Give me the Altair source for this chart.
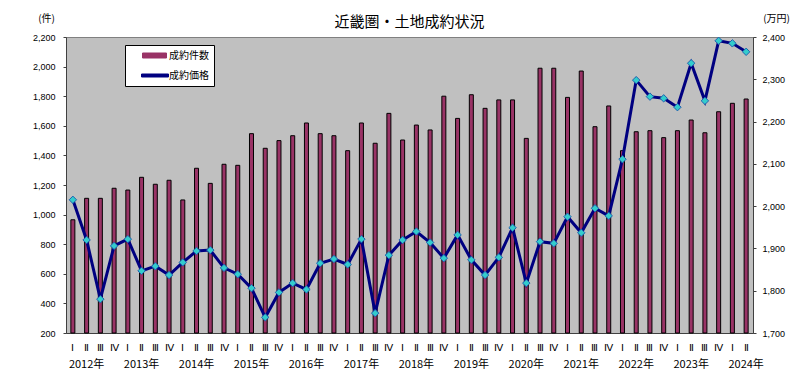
import altair as alt
import pandas as pd

years = list(range(2012, 2025))
quarter_labels = ["Ⅰ", "Ⅱ", "Ⅲ", "Ⅳ"]

counts = [965, 1110, 1110, 1178, 1166, 1252, 1205, 1232, 1099, 1313, 1211, 1340,
          1333, 1547, 1448, 1500, 1533, 1619, 1547, 1533, 1432, 1619, 1482, 1684,
          1504, 1605, 1572, 1800, 1650, 1810, 1718, 1775, 1775, 1515, 1989, 1989,
          1792, 1970, 1594, 1734, 1432, 1560, 1567, 1520, 1567, 1639, 1553, 1695,
          1752, 1781]

prices = [2015, 1920, 1780, 1906, 1922, 1847, 1858, 1837, 1867, 1894, 1896, 1854,
          1839, 1806, 1737, 1796, 1818, 1803, 1865, 1875, 1862, 1922, 1747, 1884,
          1920, 1940, 1914, 1877, 1932, 1873, 1837, 1879, 1949, 1818, 1916, 1912,
          1975, 1937, 1995, 1977, 2111, 2298, 2259, 2255, 2234, 2338, 2249, 2391,
          2385, 2365]

left_ticks = list(range(200, 2201, 200))
right_ticks = list(range(1700, 2401, 100))

keys, year_label = [], []
for i in range(len(counts)):
    y = years[i // 4]
    q = i % 4
    keys.append(f"{y}-{quarter_labels[q]}")
    year_label.append(f"{y}年" if q == 1 else "")

df = pd.DataFrame({
    "key": keys,
    "count": counts,
    "price": prices,
    "year_label": year_label,
    "s_bar": "成約件数",
    "s_line": "成約価格",
})

JP = "Noto Sans CJK JP"
NUM = "Liberation Sans"

x_enc = alt.X("key:O", sort=keys, scale=alt.Scale(domain=keys, paddingInner=0, paddingOuter=0),
              axis=alt.Axis(title=None, labelAngle=0, ticks=False, labelPadding=9,
                            labelExpr="split(datum.value, '-')[1]", labelFont="Liberation Serif",
                            labelFontSize=10, labelColor="black", domainColor="#404040"))

is_bar = "datum.value == '成約件数'"
bar_path = "M1.4,-0.5H6.2V0.5H1.4Z"
line_path = "M1.2,-0.3H6.6V0.3H1.2Z"

legend = alt.Legend(
    title=None, orient="none", legendX=59, legendY=8, direction="vertical",
    fillColor="white", strokeColor="black", padding=5, rowPadding=9,
    labelFont=JP, labelFontSize=10, labelColor="black", labelOffset=28,
    symbolSize=100, labelExpr="datum.label + '\u3000'",
    symbolType={"expr": f"{is_bar} ? '{bar_path}' : '{line_path}'"},
    symbolFillColor={"expr": f"{is_bar} ? '#993366' : '#000080'"},
    symbolStrokeColor={"expr": f"{is_bar} ? '#000000' : '#000080'"},
    symbolStrokeWidth=1, symbolOpacity=1,
)

color_scale = alt.Scale(domain=["成約件数", "成約価格"], range=["#993366", "#000080"])

base = alt.Chart(df)

bars = base.mark_bar(size=4, stroke="black", strokeWidth=1, opacity=1).encode(
    x=x_enc,
    y=alt.Y("count:Q", scale=alt.Scale(domain=[200, 2200], nice=False, zero=False),
            axis=alt.Axis(values=left_ticks, format=",d", grid=False, orient="left",
                          tickSize=3, labelPadding=8, labelFont=NUM, labelFontSize=9,
                          labelColor="black", domainColor="#404040", tickColor="#404040",
                          title="(件)", titleAngle=0, titleX=-20, titleY=-19,
                          titleAlign="center", titleBaseline="middle", titleFont=JP,
                          titleFontSize=10, titleFontWeight="normal", titleColor="black")),
    y2=alt.datum(200),
    color=alt.Color("s_bar:N", scale=color_scale, legend=legend),
)

right_axis = alt.Axis(values=right_ticks, format=",d", grid=False, orient="right",
                      tickSize=3, labelPadding=6, labelFont=NUM, labelFontSize=9,
                      labelColor="black", domainColor="#404040", tickColor="#404040",
                      title="(万円)", titleAngle=0, titleX=23, titleY=-19,
                      titleAlign="center", titleBaseline="middle", titleFont=JP,
                      titleFontSize=10, titleFontWeight="normal", titleColor="black")
right_scale = alt.Scale(domain=[1700, 2400], nice=False, zero=False)

line = base.mark_line(strokeWidth=3).encode(
    x=x_enc,
    y=alt.Y("price:Q", scale=right_scale, axis=right_axis),
    color=alt.Color("s_line:N", scale=color_scale, legend=legend),
)

points = base.mark_point(shape="diamond", filled=True, size=55, fill="#33CCCC",
                         stroke="#2060B0", strokeWidth=1, opacity=1).encode(
    x=x_enc,
    y=alt.Y("price:Q", scale=right_scale, axis=right_axis),
)

year_text = base.transform_filter("datum.year_label != ''").mark_text(
    font=JP, fontSize=11, color="black", baseline="middle", align="center"
).encode(
    x=x_enc,
    y=alt.value(328),
    text="year_label:N",
)

chart = alt.layer(bars, alt.layer(line, points), year_text).resolve_scale(
    y="independent"
).properties(
    width=687, height=296,
    title=alt.TitleParams("近畿圏・土地成約状況", font=JP, fontSize=15, fontWeight="normal",
                          color="black", anchor="middle", baseline="bottom", offset=-32),
    autosize=alt.AutoSizeParams(type="none"),
    padding={"left": 66, "top": 37, "right": 47, "bottom": 45},
    background="white",
).configure_view(fill="#C0C0C0", stroke="#808080", strokeWidth=1)

chart.save("out.html", embed_options={"renderer": "svg", "actions": False})
